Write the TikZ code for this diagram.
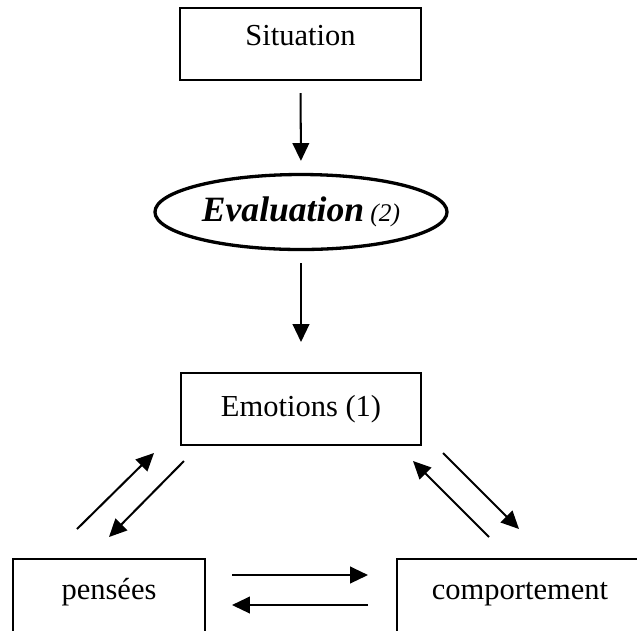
\documentclass[tikz,border=0pt]{standalone}
\usepackage{fontspec}
\setmainfont{Liberation Serif}
\usetikzlibrary{arrows.meta,shapes.geometric}

\tikzset{
  box/.style={draw,line width=0.8pt,inner sep=0pt,font=\fontsize{12}{14}\selectfont},
  flow/.style={-{Triangle[length=7pt,width=6.5pt]},line width=0.8pt},
}

\begin{document}
\begin{tikzpicture}[x=0.3934pt,y=-0.3934pt]
  \clip (0,0) rectangle (637,630);
  \node[box,anchor=base,minimum width=94.8pt,text height=14.5pt,text depth=13.8pt] (situation) at (300.5,45) {Situation};
  \node[ellipse,draw,line width=1.3pt,inner sep=0pt,minimum width=114.9pt,minimum height=29.5pt] (evaluation) at (301,212)
       {{\fontsize{14}{16}\selectfont\bfseries\itshape Evaluation} {\fontsize{10}{12}\selectfont\itshape (2)}};
  \node[box,minimum width=94.4pt,minimum height=28.3pt] (emotions) at (301,409) {Emotions (1)};
  \node[box,anchor=base,minimum width=75.5pt,text height=15.7pt,text depth=30pt] (pensees) at (109,599) {pensées};
  \node[box,anchor=base,minimum width=96.8pt,text height=15.7pt,text depth=30pt] (comportement) at (520,599) {comportement};

  % free ends of the side arrows
  \coordinate (pu1) at (77,529);   \coordinate (pu2) at (154,453);
  \coordinate (pd1) at (184,461);  \coordinate (pd2) at (109,537);
  \coordinate (cu1) at (489,537);  \coordinate (cu2) at (413,461);
  \coordinate (cd1) at (443,453);  \coordinate (cd2) at (519,529);
  \coordinate (hr1) at (232,575);  \coordinate (hr2) at (368,575);
  \coordinate (hl1) at (368,605);  \coordinate (hl2) at (232,605);

  \draw[flow,shorten <=4.7pt,shorten >=4.7pt] (situation.south) -- (evaluation.north);
  \draw[flow,shorten <=4.7pt,shorten >=11.8pt] (evaluation.south) -- (emotions.north);
  \draw[flow] (pu1) -- (pu2);
  \draw[flow] (pd1) -- (pd2);
  \draw[flow] (cu1) -- (cu2);
  \draw[flow] (cd1) -- (cd2);
  \draw[flow] (hr1) -- (hr2);
  \draw[flow] (hl1) -- (hl2);
\end{tikzpicture}
\end{document}
